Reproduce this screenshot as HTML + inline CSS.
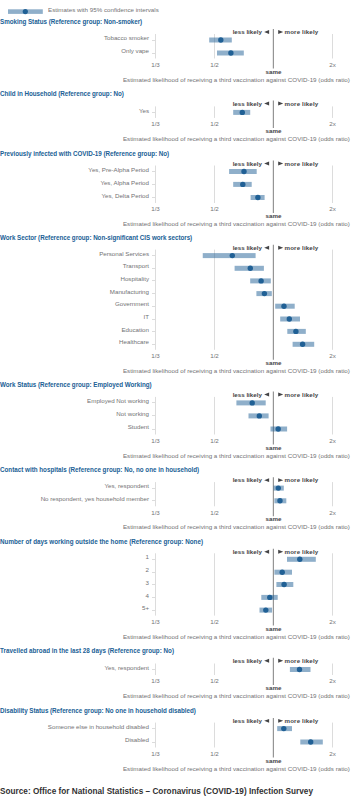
<!DOCTYPE html>
<html><head><meta charset="utf-8"><style>
html,body{margin:0;padding:0;background:#fff;width:363px;height:803px;overflow:hidden}
svg{display:block;font-family:"Liberation Sans",sans-serif}
</style></head><body>
<svg width="363" height="803" viewBox="0 0 363 803">
<rect x="8" y="9.3" width="34.8" height="4.6" fill="rgba(32,96,149,0.5)"/>
<circle cx="25.3" cy="11.6" r="2.6" fill="#206095"/>
<text x="48" y="11.8" font-size="6.2" fill="#727274" textLength="110.8" lengthAdjust="spacing">Estimates with 95% confidence intervals</text>
<text x="0" y="23.60" font-size="6.27" font-weight="bold" fill="#206095" textLength="142.2" lengthAdjust="spacing">Smoking Status (Reference group: Non-smoker)</text>
<line x1="155.5" y1="34.00" x2="155.5" y2="58.50" stroke="#dcdcdc" stroke-width="1"/>
<line x1="214.5" y1="34.00" x2="214.5" y2="58.50" stroke="#dcdcdc" stroke-width="1"/>
<line x1="332.5" y1="34.00" x2="332.5" y2="58.50" stroke="#dcdcdc" stroke-width="1"/>
<line x1="273.4" y1="29.00" x2="273.4" y2="68.50" stroke="#959595" stroke-width="1.2"/>
<text x="261.9" y="34.00" font-size="6.2" font-weight="bold" fill="#444446" text-anchor="end">less likely</text>
<path d="M269.1 30.00 L269.1 33.90 L264.2 31.95Z" fill="#444446"/>
<text x="284.6" y="34.00" font-size="6.2" font-weight="bold" fill="#444446"textLength="33.6" lengthAdjust="spacing">more likely</text>
<path d="M278.2 30.00 L278.2 33.90 L283.2 31.95Z" fill="#444446"/>
<line x1="152" y1="40.50" x2="155.5" y2="40.50" stroke="#dcdcdc" stroke-width="1"/>
<text x="149" y="40.10" font-size="6.2" fill="#727274" text-anchor="end">Tobacco smoker</text>
<rect x="209.20" y="37.50" width="22.60" height="5" fill="rgba(32,96,149,0.5)"/>
<circle cx="220.80" cy="40.00" r="2.7" fill="#206095"/>
<line x1="152" y1="53.50" x2="155.5" y2="53.50" stroke="#dcdcdc" stroke-width="1"/>
<text x="149" y="53.10" font-size="6.2" fill="#727274" text-anchor="end">Only vape</text>
<rect x="217.00" y="50.50" width="26.80" height="5" fill="rgba(32,96,149,0.5)"/>
<circle cx="230.90" cy="53.00" r="2.7" fill="#206095"/>
<text x="155.5" y="66.90" font-size="6.2" fill="#727274" text-anchor="middle">1/3</text>
<text x="214.5" y="66.90" font-size="6.2" fill="#727274" text-anchor="middle">1/2</text>
<text x="332.5" y="66.90" font-size="6.2" fill="#727274" text-anchor="middle">2x</text>
<text x="273.5" y="73.60" font-size="6.2" font-weight="bold" fill="#444446" text-anchor="middle">same</text>
<text x="122.9" y="81.60" font-size="6.2" fill="#727274" textLength="227" lengthAdjust="spacing">Estimated likelihood of receiving a third vaccination against COVID-19 (odds ratio)</text>
<text x="0" y="95.60" font-size="6.27" font-weight="bold" fill="#206095" textLength="123.8" lengthAdjust="spacing">Child in Household (Reference group: No)</text>
<line x1="155.5" y1="106.40" x2="155.5" y2="117.90" stroke="#dcdcdc" stroke-width="1"/>
<line x1="214.5" y1="106.40" x2="214.5" y2="117.90" stroke="#dcdcdc" stroke-width="1"/>
<line x1="332.5" y1="106.40" x2="332.5" y2="117.90" stroke="#dcdcdc" stroke-width="1"/>
<line x1="273.4" y1="100.60" x2="273.4" y2="127.90" stroke="#959595" stroke-width="1.2"/>
<text x="261.9" y="105.60" font-size="6.2" font-weight="bold" fill="#444446" text-anchor="end">less likely</text>
<path d="M269.1 101.60 L269.1 105.50 L264.2 103.55Z" fill="#444446"/>
<text x="284.6" y="105.60" font-size="6.2" font-weight="bold" fill="#444446"textLength="33.6" lengthAdjust="spacing">more likely</text>
<path d="M278.2 101.60 L278.2 105.50 L283.2 103.55Z" fill="#444446"/>
<line x1="152" y1="112.50" x2="155.5" y2="112.50" stroke="#dcdcdc" stroke-width="1"/>
<text x="149" y="112.50" font-size="6.2" fill="#727274" text-anchor="end">Yes</text>
<rect x="233.20" y="109.90" width="17.00" height="5" fill="rgba(32,96,149,0.5)"/>
<circle cx="242.30" cy="112.40" r="2.7" fill="#206095"/>
<text x="155.5" y="126.30" font-size="6.2" fill="#727274" text-anchor="middle">1/3</text>
<text x="214.5" y="126.30" font-size="6.2" fill="#727274" text-anchor="middle">1/2</text>
<text x="332.5" y="126.30" font-size="6.2" fill="#727274" text-anchor="middle">2x</text>
<text x="273.5" y="133.00" font-size="6.2" font-weight="bold" fill="#444446" text-anchor="middle">same</text>
<text x="122.9" y="141.00" font-size="6.2" fill="#727274" textLength="227" lengthAdjust="spacing">Estimated likelihood of receiving a third vaccination against COVID-19 (odds ratio)</text>
<text x="0" y="156.30" font-size="6.27" font-weight="bold" fill="#206095" textLength="169.2" lengthAdjust="spacing">Previously infected with COVID-19 (Reference group: No)</text>
<line x1="155.5" y1="165.50" x2="155.5" y2="203.00" stroke="#dcdcdc" stroke-width="1"/>
<line x1="214.5" y1="165.50" x2="214.5" y2="203.00" stroke="#dcdcdc" stroke-width="1"/>
<line x1="332.5" y1="165.50" x2="332.5" y2="203.00" stroke="#dcdcdc" stroke-width="1"/>
<line x1="273.4" y1="160.60" x2="273.4" y2="213.00" stroke="#959595" stroke-width="1.2"/>
<text x="261.9" y="165.60" font-size="6.2" font-weight="bold" fill="#444446" text-anchor="end">less likely</text>
<path d="M269.1 161.60 L269.1 165.50 L264.2 163.55Z" fill="#444446"/>
<text x="284.6" y="165.60" font-size="6.2" font-weight="bold" fill="#444446"textLength="33.6" lengthAdjust="spacing">more likely</text>
<path d="M278.2 161.60 L278.2 165.50 L283.2 163.55Z" fill="#444446"/>
<line x1="152" y1="171.50" x2="155.5" y2="171.50" stroke="#dcdcdc" stroke-width="1"/>
<text x="149" y="171.60" font-size="6.2" fill="#727274" text-anchor="end">Yes, Pre-Alpha Period</text>
<rect x="229.10" y="169.00" width="27.60" height="5" fill="rgba(32,96,149,0.5)"/>
<circle cx="244.00" cy="171.50" r="2.7" fill="#206095"/>
<line x1="152" y1="184.50" x2="155.5" y2="184.50" stroke="#dcdcdc" stroke-width="1"/>
<text x="149" y="184.50" font-size="6.2" fill="#727274" text-anchor="end">Yes, Alpha Period</text>
<rect x="233.20" y="181.90" width="18.50" height="5" fill="rgba(32,96,149,0.5)"/>
<circle cx="242.80" cy="184.40" r="2.7" fill="#206095"/>
<line x1="152" y1="197.50" x2="155.5" y2="197.50" stroke="#dcdcdc" stroke-width="1"/>
<text x="149" y="197.60" font-size="6.2" fill="#727274" text-anchor="end">Yes, Delta Period</text>
<rect x="250.60" y="195.00" width="14.00" height="5" fill="rgba(32,96,149,0.5)"/>
<circle cx="257.90" cy="197.50" r="2.7" fill="#206095"/>
<text x="155.5" y="211.40" font-size="6.2" fill="#727274" text-anchor="middle">1/3</text>
<text x="214.5" y="211.40" font-size="6.2" fill="#727274" text-anchor="middle">1/2</text>
<text x="332.5" y="211.40" font-size="6.2" fill="#727274" text-anchor="middle">2x</text>
<text x="273.5" y="218.10" font-size="6.2" font-weight="bold" fill="#444446" text-anchor="middle">same</text>
<text x="122.9" y="226.10" font-size="6.2" fill="#727274" textLength="227" lengthAdjust="spacing">Estimated likelihood of receiving a third vaccination against COVID-19 (odds ratio)</text>
<text x="0" y="240.30" font-size="6.27" font-weight="bold" fill="#206095" textLength="192.2" lengthAdjust="spacing">Work Sector (Reference group: Non-significant CIS work sectors)</text>
<line x1="155.5" y1="249.60" x2="155.5" y2="349.80" stroke="#dcdcdc" stroke-width="1"/>
<line x1="214.5" y1="249.60" x2="214.5" y2="349.80" stroke="#dcdcdc" stroke-width="1"/>
<line x1="332.5" y1="249.60" x2="332.5" y2="349.80" stroke="#dcdcdc" stroke-width="1"/>
<line x1="273.4" y1="244.80" x2="273.4" y2="359.80" stroke="#959595" stroke-width="1.2"/>
<text x="261.9" y="249.80" font-size="6.2" font-weight="bold" fill="#444446" text-anchor="end">less likely</text>
<path d="M269.1 245.80 L269.1 249.70 L264.2 247.75Z" fill="#444446"/>
<text x="284.6" y="249.80" font-size="6.2" font-weight="bold" fill="#444446"textLength="33.6" lengthAdjust="spacing">more likely</text>
<path d="M278.2 245.80 L278.2 249.70 L283.2 247.75Z" fill="#444446"/>
<line x1="152" y1="255.50" x2="155.5" y2="255.50" stroke="#dcdcdc" stroke-width="1"/>
<text x="149" y="255.70" font-size="6.2" fill="#727274" text-anchor="end">Personal Services</text>
<rect x="202.75" y="253.10" width="52.85" height="5" fill="rgba(32,96,149,0.5)"/>
<circle cx="232.30" cy="255.60" r="2.7" fill="#206095"/>
<line x1="152" y1="268.50" x2="155.5" y2="268.50" stroke="#dcdcdc" stroke-width="1"/>
<text x="149" y="268.40" font-size="6.2" fill="#727274" text-anchor="end">Transport</text>
<rect x="234.60" y="265.80" width="29.30" height="5" fill="rgba(32,96,149,0.5)"/>
<circle cx="250.30" cy="268.30" r="2.7" fill="#206095"/>
<line x1="152" y1="280.50" x2="155.5" y2="280.50" stroke="#dcdcdc" stroke-width="1"/>
<text x="149" y="281.00" font-size="6.2" fill="#727274" text-anchor="end">Hospitality</text>
<rect x="250.20" y="278.40" width="20.60" height="5" fill="rgba(32,96,149,0.5)"/>
<circle cx="261.10" cy="280.90" r="2.7" fill="#206095"/>
<line x1="152" y1="293.50" x2="155.5" y2="293.50" stroke="#dcdcdc" stroke-width="1"/>
<text x="149" y="293.70" font-size="6.2" fill="#727274" text-anchor="end">Manufacturing</text>
<rect x="256.40" y="291.10" width="15.40" height="5" fill="rgba(32,96,149,0.5)"/>
<circle cx="264.40" cy="293.60" r="2.7" fill="#206095"/>
<line x1="152" y1="306.50" x2="155.5" y2="306.50" stroke="#dcdcdc" stroke-width="1"/>
<text x="149" y="306.30" font-size="6.2" fill="#727274" text-anchor="end">Government</text>
<rect x="275.20" y="303.70" width="19.50" height="5" fill="rgba(32,96,149,0.5)"/>
<circle cx="284.00" cy="306.20" r="2.7" fill="#206095"/>
<line x1="152" y1="319.50" x2="155.5" y2="319.50" stroke="#dcdcdc" stroke-width="1"/>
<text x="149" y="319.10" font-size="6.2" fill="#727274" text-anchor="end">IT</text>
<rect x="280.20" y="316.50" width="19.80" height="5" fill="rgba(32,96,149,0.5)"/>
<circle cx="289.30" cy="319.00" r="2.7" fill="#206095"/>
<line x1="152" y1="331.50" x2="155.5" y2="331.50" stroke="#dcdcdc" stroke-width="1"/>
<text x="149" y="331.50" font-size="6.2" fill="#727274" text-anchor="end">Education</text>
<rect x="287.30" y="328.90" width="18.50" height="5" fill="rgba(32,96,149,0.5)"/>
<circle cx="295.90" cy="331.40" r="2.7" fill="#206095"/>
<line x1="152" y1="344.50" x2="155.5" y2="344.50" stroke="#dcdcdc" stroke-width="1"/>
<text x="149" y="344.40" font-size="6.2" fill="#727274" text-anchor="end">Healthcare</text>
<rect x="292.60" y="341.80" width="21.60" height="5" fill="rgba(32,96,149,0.5)"/>
<circle cx="302.60" cy="344.30" r="2.7" fill="#206095"/>
<text x="155.5" y="358.20" font-size="6.2" fill="#727274" text-anchor="middle">1/3</text>
<text x="214.5" y="358.20" font-size="6.2" fill="#727274" text-anchor="middle">1/2</text>
<text x="332.5" y="358.20" font-size="6.2" fill="#727274" text-anchor="middle">2x</text>
<text x="273.5" y="364.90" font-size="6.2" font-weight="bold" fill="#444446" text-anchor="middle">same</text>
<text x="122.9" y="372.90" font-size="6.2" fill="#727274" textLength="227" lengthAdjust="spacing">Estimated likelihood of receiving a third vaccination against COVID-19 (odds ratio)</text>
<text x="0" y="386.90" font-size="6.27" font-weight="bold" fill="#206095" textLength="151.6" lengthAdjust="spacing">Work Status (Reference group: Employed Working)</text>
<line x1="155.5" y1="396.90" x2="155.5" y2="434.50" stroke="#dcdcdc" stroke-width="1"/>
<line x1="214.5" y1="396.90" x2="214.5" y2="434.50" stroke="#dcdcdc" stroke-width="1"/>
<line x1="332.5" y1="396.90" x2="332.5" y2="434.50" stroke="#dcdcdc" stroke-width="1"/>
<line x1="273.4" y1="391.60" x2="273.4" y2="444.50" stroke="#959595" stroke-width="1.2"/>
<text x="261.9" y="396.60" font-size="6.2" font-weight="bold" fill="#444446" text-anchor="end">less likely</text>
<path d="M269.1 392.60 L269.1 396.50 L264.2 394.55Z" fill="#444446"/>
<text x="284.6" y="396.60" font-size="6.2" font-weight="bold" fill="#444446"textLength="33.6" lengthAdjust="spacing">more likely</text>
<path d="M278.2 392.60 L278.2 396.50 L283.2 394.55Z" fill="#444446"/>
<line x1="152" y1="402.50" x2="155.5" y2="402.50" stroke="#dcdcdc" stroke-width="1"/>
<text x="149" y="403.00" font-size="6.2" fill="#727274" text-anchor="end">Employed Not working</text>
<rect x="236.40" y="400.40" width="29.30" height="5" fill="rgba(32,96,149,0.5)"/>
<circle cx="252.20" cy="402.90" r="2.7" fill="#206095"/>
<line x1="152" y1="415.50" x2="155.5" y2="415.50" stroke="#dcdcdc" stroke-width="1"/>
<text x="149" y="416.00" font-size="6.2" fill="#727274" text-anchor="end">Not working</text>
<rect x="248.50" y="413.40" width="20.10" height="5" fill="rgba(32,96,149,0.5)"/>
<circle cx="259.30" cy="415.90" r="2.7" fill="#206095"/>
<line x1="152" y1="429.50" x2="155.5" y2="429.50" stroke="#dcdcdc" stroke-width="1"/>
<text x="149" y="429.10" font-size="6.2" fill="#727274" text-anchor="end">Student</text>
<rect x="270.50" y="426.50" width="16.60" height="5" fill="rgba(32,96,149,0.5)"/>
<circle cx="278.20" cy="429.00" r="2.7" fill="#206095"/>
<text x="155.5" y="442.90" font-size="6.2" fill="#727274" text-anchor="middle">1/3</text>
<text x="214.5" y="442.90" font-size="6.2" fill="#727274" text-anchor="middle">1/2</text>
<text x="332.5" y="442.90" font-size="6.2" fill="#727274" text-anchor="middle">2x</text>
<text x="273.5" y="449.60" font-size="6.2" font-weight="bold" fill="#444446" text-anchor="middle">same</text>
<text x="122.9" y="457.60" font-size="6.2" fill="#727274" textLength="227" lengthAdjust="spacing">Estimated likelihood of receiving a third vaccination against COVID-19 (odds ratio)</text>
<text x="0" y="472.40" font-size="6.27" font-weight="bold" fill="#206095" textLength="199.2" lengthAdjust="spacing">Contact with hospitals (Reference group: No, no one in household)</text>
<line x1="155.5" y1="482.10" x2="155.5" y2="506.30" stroke="#dcdcdc" stroke-width="1"/>
<line x1="214.5" y1="482.10" x2="214.5" y2="506.30" stroke="#dcdcdc" stroke-width="1"/>
<line x1="332.5" y1="482.10" x2="332.5" y2="506.30" stroke="#dcdcdc" stroke-width="1"/>
<line x1="273.4" y1="477.20" x2="273.4" y2="516.30" stroke="#959595" stroke-width="1.2"/>
<text x="261.9" y="482.20" font-size="6.2" font-weight="bold" fill="#444446" text-anchor="end">less likely</text>
<path d="M269.1 478.20 L269.1 482.10 L264.2 480.15Z" fill="#444446"/>
<text x="284.6" y="482.20" font-size="6.2" font-weight="bold" fill="#444446"textLength="33.6" lengthAdjust="spacing">more likely</text>
<path d="M278.2 478.20 L278.2 482.10 L283.2 480.15Z" fill="#444446"/>
<line x1="152" y1="488.50" x2="155.5" y2="488.50" stroke="#dcdcdc" stroke-width="1"/>
<text x="149" y="488.20" font-size="6.2" fill="#727274" text-anchor="end">Yes, respondent</text>
<rect x="273.50" y="485.60" width="10.30" height="5" fill="rgba(32,96,149,0.5)"/>
<circle cx="278.30" cy="488.10" r="2.7" fill="#206095"/>
<line x1="152" y1="500.50" x2="155.5" y2="500.50" stroke="#dcdcdc" stroke-width="1"/>
<text x="149" y="500.90" font-size="6.2" fill="#727274" text-anchor="end">No respondent, yes household member</text>
<rect x="274.40" y="498.30" width="11.90" height="5" fill="rgba(32,96,149,0.5)"/>
<circle cx="280.00" cy="500.80" r="2.7" fill="#206095"/>
<text x="155.5" y="514.70" font-size="6.2" fill="#727274" text-anchor="middle">1/3</text>
<text x="214.5" y="514.70" font-size="6.2" fill="#727274" text-anchor="middle">1/2</text>
<text x="332.5" y="514.70" font-size="6.2" fill="#727274" text-anchor="middle">2x</text>
<text x="273.5" y="521.40" font-size="6.2" font-weight="bold" fill="#444446" text-anchor="middle">same</text>
<text x="122.9" y="529.40" font-size="6.2" fill="#727274" textLength="227" lengthAdjust="spacing">Estimated likelihood of receiving a third vaccination against COVID-19 (odds ratio)</text>
<text x="0" y="544.10" font-size="6.27" font-weight="bold" fill="#206095" textLength="203.0" lengthAdjust="spacing">Number of days working outside the home (Reference group: None)</text>
<line x1="155.5" y1="553.30" x2="155.5" y2="615.60" stroke="#dcdcdc" stroke-width="1"/>
<line x1="214.5" y1="553.30" x2="214.5" y2="615.60" stroke="#dcdcdc" stroke-width="1"/>
<line x1="332.5" y1="553.30" x2="332.5" y2="615.60" stroke="#dcdcdc" stroke-width="1"/>
<line x1="273.4" y1="548.80" x2="273.4" y2="625.60" stroke="#959595" stroke-width="1.2"/>
<text x="261.9" y="553.80" font-size="6.2" font-weight="bold" fill="#444446" text-anchor="end">less likely</text>
<path d="M269.1 549.80 L269.1 553.70 L264.2 551.75Z" fill="#444446"/>
<text x="284.6" y="553.80" font-size="6.2" font-weight="bold" fill="#444446"textLength="33.6" lengthAdjust="spacing">more likely</text>
<path d="M278.2 549.80 L278.2 553.70 L283.2 551.75Z" fill="#444446"/>
<line x1="152" y1="559.50" x2="155.5" y2="559.50" stroke="#dcdcdc" stroke-width="1"/>
<text x="149" y="559.40" font-size="6.2" fill="#727274" text-anchor="end">1</text>
<rect x="287.00" y="556.80" width="28.80" height="5" fill="rgba(32,96,149,0.5)"/>
<circle cx="299.80" cy="559.30" r="2.7" fill="#206095"/>
<line x1="152" y1="572.50" x2="155.5" y2="572.50" stroke="#dcdcdc" stroke-width="1"/>
<text x="149" y="572.30" font-size="6.2" fill="#727274" text-anchor="end">2</text>
<rect x="274.40" y="569.70" width="17.60" height="5" fill="rgba(32,96,149,0.5)"/>
<circle cx="282.20" cy="572.20" r="2.7" fill="#206095"/>
<line x1="152" y1="584.50" x2="155.5" y2="584.50" stroke="#dcdcdc" stroke-width="1"/>
<text x="149" y="584.60" font-size="6.2" fill="#727274" text-anchor="end">3</text>
<rect x="276.40" y="582.00" width="16.90" height="5" fill="rgba(32,96,149,0.5)"/>
<circle cx="284.10" cy="584.50" r="2.7" fill="#206095"/>
<line x1="152" y1="597.50" x2="155.5" y2="597.50" stroke="#dcdcdc" stroke-width="1"/>
<text x="149" y="597.50" font-size="6.2" fill="#727274" text-anchor="end">4</text>
<rect x="261.30" y="594.90" width="16.40" height="5" fill="rgba(32,96,149,0.5)"/>
<circle cx="269.80" cy="597.40" r="2.7" fill="#206095"/>
<line x1="152" y1="610.50" x2="155.5" y2="610.50" stroke="#dcdcdc" stroke-width="1"/>
<text x="149" y="610.20" font-size="6.2" fill="#727274" text-anchor="end">5+</text>
<rect x="259.50" y="607.60" width="12.60" height="5" fill="rgba(32,96,149,0.5)"/>
<circle cx="265.80" cy="610.10" r="2.7" fill="#206095"/>
<text x="155.5" y="624.00" font-size="6.2" fill="#727274" text-anchor="middle">1/3</text>
<text x="214.5" y="624.00" font-size="6.2" fill="#727274" text-anchor="middle">1/2</text>
<text x="332.5" y="624.00" font-size="6.2" fill="#727274" text-anchor="middle">2x</text>
<text x="273.5" y="630.70" font-size="6.2" font-weight="bold" fill="#444446" text-anchor="middle">same</text>
<text x="122.9" y="638.70" font-size="6.2" fill="#727274" textLength="227" lengthAdjust="spacing">Estimated likelihood of receiving a third vaccination against COVID-19 (odds ratio)</text>
<text x="0" y="653.30" font-size="6.27" font-weight="bold" fill="#206095" textLength="174.0" lengthAdjust="spacing">Travelled abroad in the last 28 days (Reference group: No)</text>
<line x1="155.5" y1="663.50" x2="155.5" y2="675.00" stroke="#dcdcdc" stroke-width="1"/>
<line x1="214.5" y1="663.50" x2="214.5" y2="675.00" stroke="#dcdcdc" stroke-width="1"/>
<line x1="332.5" y1="663.50" x2="332.5" y2="675.00" stroke="#dcdcdc" stroke-width="1"/>
<line x1="273.4" y1="657.80" x2="273.4" y2="685.00" stroke="#959595" stroke-width="1.2"/>
<text x="261.9" y="662.80" font-size="6.2" font-weight="bold" fill="#444446" text-anchor="end">less likely</text>
<path d="M269.1 658.80 L269.1 662.70 L264.2 660.75Z" fill="#444446"/>
<text x="284.6" y="662.80" font-size="6.2" font-weight="bold" fill="#444446"textLength="33.6" lengthAdjust="spacing">more likely</text>
<path d="M278.2 658.80 L278.2 662.70 L283.2 660.75Z" fill="#444446"/>
<line x1="152" y1="669.50" x2="155.5" y2="669.50" stroke="#dcdcdc" stroke-width="1"/>
<text x="149" y="669.60" font-size="6.2" fill="#727274" text-anchor="end">Yes, respondent</text>
<rect x="289.90" y="667.00" width="20.60" height="5" fill="rgba(32,96,149,0.5)"/>
<circle cx="299.50" cy="669.50" r="2.7" fill="#206095"/>
<text x="155.5" y="683.40" font-size="6.2" fill="#727274" text-anchor="middle">1/3</text>
<text x="214.5" y="683.40" font-size="6.2" fill="#727274" text-anchor="middle">1/2</text>
<text x="332.5" y="683.40" font-size="6.2" fill="#727274" text-anchor="middle">2x</text>
<text x="273.5" y="690.10" font-size="6.2" font-weight="bold" fill="#444446" text-anchor="middle">same</text>
<text x="122.9" y="698.10" font-size="6.2" fill="#727274" textLength="227" lengthAdjust="spacing">Estimated likelihood of receiving a third vaccination against COVID-19 (odds ratio)</text>
<text x="0" y="712.50" font-size="6.27" font-weight="bold" fill="#206095" textLength="195.8" lengthAdjust="spacing">Disability Status (Reference group: No one in household disabled)</text>
<line x1="155.5" y1="722.60" x2="155.5" y2="747.50" stroke="#dcdcdc" stroke-width="1"/>
<line x1="214.5" y1="722.60" x2="214.5" y2="747.50" stroke="#dcdcdc" stroke-width="1"/>
<line x1="332.5" y1="722.60" x2="332.5" y2="747.50" stroke="#dcdcdc" stroke-width="1"/>
<line x1="273.4" y1="717.90" x2="273.4" y2="757.50" stroke="#959595" stroke-width="1.2"/>
<text x="261.9" y="722.90" font-size="6.2" font-weight="bold" fill="#444446" text-anchor="end">less likely</text>
<path d="M269.1 718.90 L269.1 722.80 L264.2 720.85Z" fill="#444446"/>
<text x="284.6" y="722.90" font-size="6.2" font-weight="bold" fill="#444446"textLength="33.6" lengthAdjust="spacing">more likely</text>
<path d="M278.2 718.90 L278.2 722.80 L283.2 720.85Z" fill="#444446"/>
<line x1="152" y1="728.50" x2="155.5" y2="728.50" stroke="#dcdcdc" stroke-width="1"/>
<text x="149" y="728.70" font-size="6.2" fill="#727274" text-anchor="end">Someone else in household disabled</text>
<rect x="277.20" y="726.10" width="14.80" height="5" fill="rgba(32,96,149,0.5)"/>
<circle cx="283.80" cy="728.60" r="2.7" fill="#206095"/>
<line x1="152" y1="742.50" x2="155.5" y2="742.50" stroke="#dcdcdc" stroke-width="1"/>
<text x="149" y="742.10" font-size="6.2" fill="#727274" text-anchor="end">Disabled</text>
<rect x="300.30" y="739.50" width="22.50" height="5" fill="rgba(32,96,149,0.5)"/>
<circle cx="310.70" cy="742.00" r="2.7" fill="#206095"/>
<text x="155.5" y="755.90" font-size="6.2" fill="#727274" text-anchor="middle">1/3</text>
<text x="214.5" y="755.90" font-size="6.2" fill="#727274" text-anchor="middle">1/2</text>
<text x="332.5" y="755.90" font-size="6.2" fill="#727274" text-anchor="middle">2x</text>
<text x="273.5" y="762.60" font-size="6.2" font-weight="bold" fill="#444446" text-anchor="middle">same</text>
<text x="122.9" y="770.60" font-size="6.2" fill="#727274" textLength="227" lengthAdjust="spacing">Estimated likelihood of receiving a third vaccination against COVID-19 (odds ratio)</text>
<text x="0" y="794.3" font-size="8.2" font-weight="bold" fill="#323132" textLength="313" lengthAdjust="spacing">Source: Office for National Statistics – Coronavirus (COVID-19) Infection Survey</text>
</svg>
</body></html>
